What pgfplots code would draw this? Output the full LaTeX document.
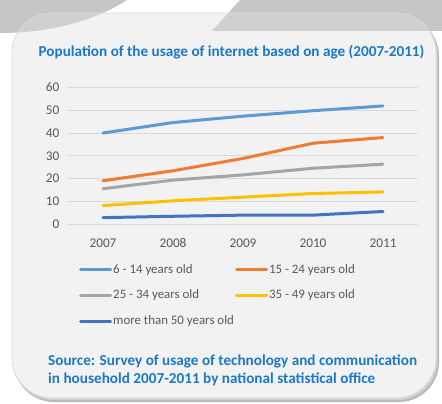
\documentclass[border=0pt]{standalone}
\usepackage{pgfplots}
\pgfplotsset{compat=1.18}
\usepackage{fontspec}
\setmainfont{Carlito}[Numbers={Lining,Monospaced}]
\definecolor{c1}{HTML}{5B9BD5}
\definecolor{c2}{HTML}{ED7D31}
\definecolor{c3}{HTML}{A5A5A5}
\definecolor{c4}{HTML}{FFC000}
\definecolor{c5}{HTML}{4472C4}
\definecolor{titleblue}{HTML}{1C78C8}
\definecolor{txt}{HTML}{595959}
\definecolor{gridc}{HTML}{D9D9D9}
\definecolor{deco}{HTML}{C6C6C6}
\definecolor{decolight}{HTML}{D0D0D0}
\definecolor{boxfill}{HTML}{F2F2F2}
\begin{document}
\begin{tikzpicture}
\begin{scope}[x=1pt,y=-1pt]
\path[use as bounding box] (0,0) rectangle (442,404);
\clip (0,0) rectangle (442,404);
\fill[white] (0,0) rectangle (442,404);
% top decorations
\fill[deco] (0,-60) ellipse [x radius=166, y radius=93];
\fill[deco] (240,0) -- (212,31) -- (442,31) -- (442,0) -- cycle;
% shadow
\fill[gray!55, rounded corners=40] (14,16) rectangle (439,402);
\fill[gray!35, rounded corners=40] (13,14) rectangle (437.5,400);
% box
\fill[boxfill, rounded corners=40] (12,13) rectangle (436,398);
\begin{scope}
\clip[rounded corners=40] (12,13) rectangle (436,398);
\fill[decolight] (0,-60) ellipse [x radius=166, y radius=93];
\fill[decolight] (240,0) -- (212,31) -- (442,31) -- (442,0) -- cycle;
\end{scope}
\draw[gray!30, line width=0.6pt, rounded corners=40] (12,13) rectangle (436,398);
% title
\node[anchor=base, text=titleblue, font=\fontsize{15.2}{17}\selectfont\bfseries, inner sep=0pt] at (231.5,57) {Population of the usage of internet based on age (2007-2011)};
% source
\node[anchor=base west, text=titleblue, font=\fontsize{15.2}{17}\selectfont\bfseries, inner sep=0pt] at (48,365) {Source: Survey of usage of technology and communication};
\node[anchor=base west, text=titleblue, font=\fontsize{15.2}{17}\selectfont\bfseries, inner sep=0pt] at (48,383) {in household 2007-2011 by national statistical office};
\end{scope}
\begin{axis}[
  at={(68pt,-224pt)}, anchor=south west,
  scale only axis, width=350pt, height=136.5pt,
  xmin=2006.5, xmax=2011.5, ymin=0, ymax=60,
  xtick={2007,2008,2009,2010,2011}, ytick={0,10,...,60},
  axis line style={draw=none}, tick style={draw=none},
  ymajorgrids, grid style={gridc, line width=0.8pt},
  /pgf/number format/1000 sep={},
  /pgf/number format/assume math mode=true,
  ticklabel style={font=\fontsize{13.3}{15}\selectfont, text=txt},
  xticklabel style={anchor=base, text height=0pt, text depth=0pt, yshift=-23pt},
  yticklabel style={xshift=-5pt},
  clip=false,
  legend columns=2,
  legend cell align=left,
  legend style={at={(0.0229,-0.27)}, anchor=north west, draw=none, fill=none,
    font=\fontsize{12.9}{15}\selectfont, text=txt,
    nodes={inner sep=1pt},
    row sep=13.5pt,
    /tikz/every even column/.append style={column sep=0pt}},
  legend image code/.code={\draw[#1, line width=3pt] (0pt,0pt) -- (30pt,0pt);},
  every axis plot/.append style={line width=3pt, line cap=round, line join=round},
]
\addplot[c1] coordinates {(2007,40) (2008,44.6) (2009,47.4) (2010,49.8) (2011,51.9)};
\addlegendentry{6 - 14 years old}
\addplot[c2] coordinates {(2007,19) (2008,23.4) (2009,28.8) (2010,35.5) (2011,38)};
\addlegendentry{15 - 24 years old}
\addplot[c3] coordinates {(2007,15.5) (2008,19.3) (2009,21.6) (2010,24.5) (2011,26.3)};
\addlegendentry{25 - 34 years old}
\addplot[c4] coordinates {(2007,8.1) (2008,10.2) (2009,11.8) (2010,13.4) (2011,14.1)};
\addlegendentry{35 - 49 years old}
\addplot[c5] coordinates {(2007,2.8) (2008,3.4) (2009,3.9) (2010,3.9) (2011,5.5)};
\addlegendentry{more than 50 years old}
\end{axis}
\end{tikzpicture}
\end{document}
